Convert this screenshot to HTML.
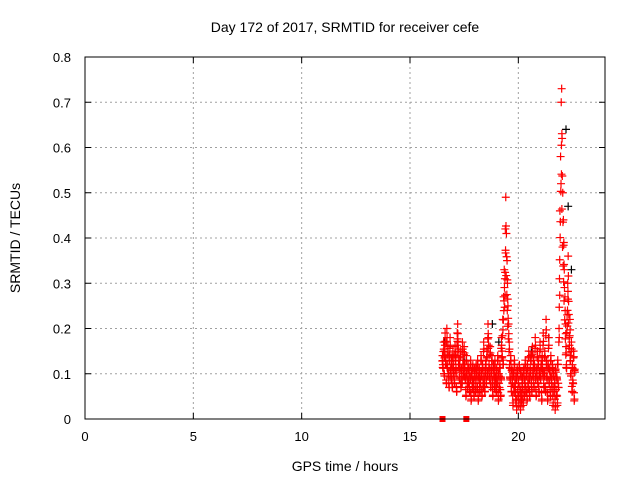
<!DOCTYPE html>
<html><head><meta charset="utf-8"><style>
html,body{margin:0;padding:0;background:#fff}
svg{display:block;font-family:"Liberation Sans",sans-serif}
</style></head><body>
<svg id="chart" width="640" height="480" viewBox="0 0 640 480" xmlns="http://www.w3.org/2000/svg">
<rect x="0" y="0" width="640" height="480" fill="#fff"/>
<text x="345" y="32" font-size="14" text-anchor="middle">Day 172 of 2017, SRMTID for receiver cefe</text>
<text x="345" y="471" font-size="14" text-anchor="middle">GPS time / hours</text>
<text x="20" y="238" font-size="14" text-anchor="middle" transform="rotate(-90 20 238)">SRMTID / TECUs</text>
<g id="grid"></g>
<g id="ticks"></g>
<g id="blackpts"></g>
<g id="redpts"></g>
<rect x="85" y="57" width="520" height="362" fill="none" stroke="#000" stroke-width="1"/>
</svg>
<script>
const xTicks=[0,5,10,15,20];
const yTicks=[0,0.1,0.2,0.3,0.4,0.5,0.6,0.7,0.8];
const yTickLabels=["0","0.1","0.2","0.3","0.4","0.5","0.6","0.7","0.8"];
const times=[16.5,16.52,16.55,16.58,16.6,16.62,16.65,16.68,16.7,16.72,16.75,16.78,16.8,16.82,16.85,16.88,16.9,16.92,16.95,16.98,17.0,17.02,17.05,17.08,17.1,17.12,17.15,17.18,17.2,17.22,17.25,17.28,17.3,17.32,17.35,17.38,17.4,17.42,17.45,17.48,17.5,17.52,17.55,17.58,17.6,17.62,17.65,17.68,17.7,17.72,17.75,17.78,17.8,17.82,17.85,17.88,17.9,17.92,17.95,17.98,18.0,18.02,18.05,18.08,18.1,18.12,18.15,18.18,18.2,18.22,18.25,18.28,18.3,18.32,18.35,18.38,18.4,18.42,18.45,18.48,18.5,18.52,18.55,18.58,18.6,18.62,18.65,18.68,18.7,18.72,18.75,18.78,18.8,18.82,18.85,18.88,18.9,18.92,18.95,18.98,19.0,19.02,19.05,19.08,19.1,19.12,19.15,19.18,19.2,19.22,19.25,19.28,19.3,19.32,19.35,19.38,19.4,19.42,19.45,19.48,19.5,19.52,19.55,19.58,19.6,19.62,19.65,19.68,19.7,19.72,19.75,19.78,19.8,19.82,19.85,19.88,19.9,19.92,19.95,19.98,20.0,20.02,20.05,20.08,20.1,20.12,20.15,20.18,20.2,20.22,20.25,20.28,20.3,20.32,20.35,20.38,20.4,20.42,20.45,20.48,20.5,20.52,20.55,20.58,20.6,20.62,20.65,20.68,20.7,20.72,20.75,20.78,20.8,20.82,20.85,20.88,20.9,20.92,20.95,20.98,21.0,21.02,21.05,21.08,21.1,21.12,21.15,21.18,21.2,21.22,21.25,21.28,21.3,21.32,21.35,21.38,21.4,21.42,21.45,21.48,21.5,21.52,21.55,21.58,21.6,21.62,21.65,21.68,21.7,21.72,21.75,21.78,21.8,21.82,21.85,21.88,21.9,21.92,21.95,21.98,22.0,22.02,22.05,22.08,22.1,22.12,22.15,22.18,22.2,22.22,22.25,22.28,22.3,22.32,22.35,22.38,22.4,22.42,22.45,22.48,22.5,22.52,22.55,22.58,22.6,22.62,22.65,22.68,22.7,22.72,22.75,22.78];
const srmtid=[0.14,0.12,0.17,0.10,0.15,0.19,0.13,0.08,0.20,0.12,0.16,0.10,0.07,0.14,0.18,0.11,0.09,0.13,0.07,0.15,0.12,0.10,0.08,0.16,0.14,0.11,0.06,0.19,0.21,0.17,0.13,0.09,0.12,0.15,0.07,0.11,0.08,0.17,0.13,0.10,0.16,0.12,0.09,0.05,0.14,0.10,0.07,0.12,0.08,0.11,0.06,0.09,0.13,0.04,0.10,0.07,0.12,0.08,0.05,0.11,0.09,0.06,0.12,0.10,0.07,0.13,0.04,0.09,0.11,0.06,0.08,0.14,0.10,0.05,0.12,0.07,0.17,0.09,0.06,0.11,0.13,0.08,0.15,0.10,0.21,0.18,0.12,0.09,0.16,0.07,0.11,0.14,0.08,0.05,0.12,0.10,0.07,0.13,0.09,0.06,0.11,0.08,0.14,0.04,0.10,0.07,0.12,0.05,0.09,0.18,0.15,0.22,0.13,0.27,0.33,0.31,0.42,0.49,0.41,0.35,0.30,0.25,0.21,0.17,0.12,0.09,0.14,0.06,0.11,0.08,0.03,0.10,0.06,0.13,0.07,0.04,0.09,0.02,0.11,0.05,0.08,0.03,0.12,0.06,0.02,0.10,0.04,0.07,0.09,0.03,0.11,0.05,0.08,0.13,0.06,0.10,0.04,0.12,0.07,0.15,0.09,0.05,0.11,0.14,0.08,0.06,0.16,0.10,0.13,0.07,0.12,0.18,0.09,0.05,0.11,0.15,0.08,0.13,0.06,0.10,0.17,0.09,0.12,0.04,0.14,0.11,0.19,0.07,0.10,0.15,0.06,0.22,0.13,0.09,0.04,0.12,0.18,0.08,0.11,0.05,0.14,0.09,0.07,0.12,0.03,0.10,0.06,0.08,0.02,0.11,0.05,0.09,0.03,0.13,0.07,0.20,0.31,0.46,0.58,0.70,0.73,0.62,0.50,0.44,0.39,0.33,0.27,0.21,0.16,0.12,0.23,0.30,0.36,0.26,0.18,0.22,0.14,0.10,0.17,0.06,0.12,0.08,0.15,0.04,0.11];
const zeroTimes=[16.5,17.6];
const blackTimes=[16.6,17.5,18.8,19.1,20.6,21.4,22.2,22.3,22.45];
const blackVals=[0.17,0.13,0.21,0.17,0.15,0.18,0.64,0.47,0.33];
const X=t=>85+t*(520/24), Y=v=>419-v*(362/0.8);
const NS="http://www.w3.org/2000/svg";
function mk(tag,attrs,parent){const e=document.createElementNS(NS,tag);for(const k in attrs)e.setAttribute(k,attrs[k]);parent.appendChild(e);return e;}
const grid=document.getElementById('grid'),ticks=document.getElementById('ticks');
xTicks.forEach(t=>{const x=X(t);
 if(t>0){const g=mk('line',{x1:x,x2:x,y1:57,y2:419,stroke:'#a0a0a0','stroke-dasharray':'2,3'},grid);}
 mk('line',{x1:x,x2:x,y1:419,y2:413,stroke:'#000'},ticks);mk('line',{x1:x,x2:x,y1:57,y2:63,stroke:'#000'},ticks);
 const l=mk('text',{x:x,y:441,'font-size':13,'text-anchor':'middle'},ticks);l.textContent=t;
 
 });
yTicks.forEach((v,i)=>{const y=Y(v);
 if(v>0&&v<0.8){const g=mk('line',{x1:85,x2:605,y1:y,y2:y,stroke:'#a0a0a0','stroke-dasharray':'2,3'},grid);}
 mk('line',{x1:85,x2:91,y1:y,y2:y,stroke:'#000'},ticks);mk('line',{x1:605,x2:599,y1:y,y2:y,stroke:'#000'},ticks);
 const l=mk('text',{x:71,y:y+5,'font-size':13,'text-anchor':'end'},ticks);l.textContent=yTickLabels[i];
 
 });
function plus(t,v,col,parent){const x=X(t),y=Y(v);
 const p=mk('path',{d:`M${x-4},${y}h8M${x},${y-4}v8`,stroke:col,'stroke-width':1.2,fill:'none'},parent);
 
 }
const bp=document.getElementById('blackpts'),rp=document.getElementById('redpts');
blackTimes.forEach((t,i)=>plus(t,blackVals[i],'#000',bp));
times.forEach((t,i)=>{plus(t,srmtid[i],'#f00',rp);plus(t+0.01,srmtid[i]*0.85+0.01,'#f00',rp);plus(t-0.01,srmtid[i]*0.7+0.03,'#f00',rp);});
zeroTimes.forEach(t=>{const r=mk('rect',{x:X(t)-3,y:416,width:6,height:6,fill:'#f00'},rp);
 
 });
</script>
</body></html>
